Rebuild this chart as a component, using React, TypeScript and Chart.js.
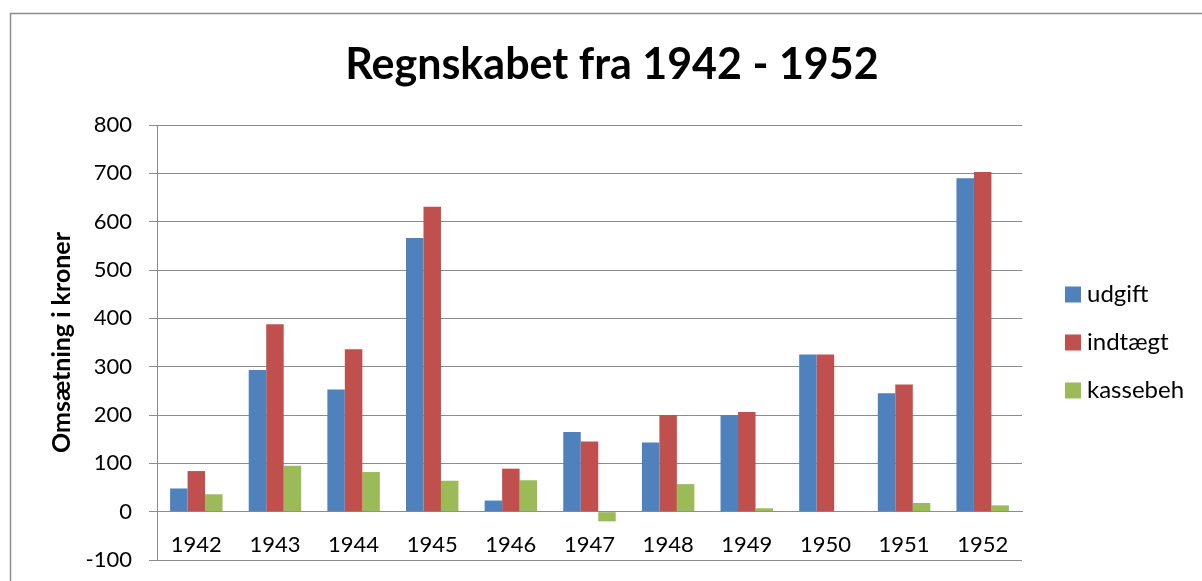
import React, { useEffect, useRef } from "react";
import { Chart, registerables } from "chart.js";

Chart.register(...registerables);

const categories = ["1942", "1943", "1944", "1945", "1946", "1947", "1948", "1949", "1950", "1951", "1952"];
const udgift = [48, 293, 253, 566, 23, 165, 143, 200, 325, 245, 690];
const indtaegt = [84, 388, 336, 631, 89, 145, 200, 206, 325, 263, 703];
const kassebeh = [36, 95, 82, 64, 65, -20, 57, 7, 0, 18, 13];
const seriesNames = ["udgift", "indtægt", "kassebeh"];
const seriesColors = ["#4F81BD", "#C0504D", "#9BBB59"];
const yMin = -100;
const yMax = 800;
const yStep = 100;
const titleText = "Regnskabet fra 1942 - 1952";
const yAxisTitle = "Omsætning i kroner";

const FONT = "Lato, 'Open Sans', sans-serif";
const GRID = "#8c8c8c";

const decorPlugin = {
  id: "decor",
  beforeDraw(chart: any) {
    const ctx = chart.ctx;
    ctx.save();
    ctx.fillStyle = "#ffffff";
    ctx.fillRect(0, 0, chart.width, chart.height);
    ctx.restore();
  },
  afterDraw(chart: any) {
    const ctx = chart.ctx;
    const area = chart.chartArea;
    ctx.save();
    // outer frame
    ctx.strokeStyle = GRID;
    ctx.lineWidth = 1.5;
    ctx.strokeRect(10.5, 13.5, 1400, 800);
    // title
    ctx.fillStyle = "#000";
    ctx.font = `bold 43px ${FONT}`;
    ctx.textAlign = "center";
    ctx.textBaseline = "alphabetic";
    ctx.fillText(titleText, 612, 79);
    // y-axis title
    const cy = (area.top + area.bottom) / 2;
    ctx.save();
    ctx.translate(62, cy);
    ctx.rotate(-Math.PI / 2);
    ctx.font = `bold 25px ${FONT}`;
    ctx.textAlign = "center";
    ctx.textBaseline = "middle";
    ctx.fillText(yAxisTitle, 0, 0);
    ctx.restore();
    // legend
    ctx.font = `24px ${FONT}`;
    ctx.textAlign = "left";
    ctx.textBaseline = "middle";
    chart.data.datasets.forEach((ds: any, i: number) => {
      const y = cy + (i - 1) * 48;
      ctx.fillStyle = ds.backgroundColor;
      ctx.fillRect(1065, y - 8, 16, 16);
      ctx.fillStyle = "#000";
      ctx.fillText(ds.label, 1087, y);
    });
    ctx.restore();
  },
};

export default function App() {
  const ref = useRef<HTMLCanvasElement>(null);
  useEffect(() => {
    if (!ref.current) return;
    Chart.defaults.font.family = FONT;
    const values = [udgift, indtaegt, kassebeh];
    const chart = new Chart(ref.current, {
      type: "bar",
      data: {
        labels: categories,
        datasets: seriesNames.map((name, i) => ({
          label: name,
          data: values[i],
          backgroundColor: seriesColors[i],
          borderWidth: 0,
          categoryPercentage: 0.667,
          barPercentage: 1,
        })),
      },
      options: {
        animation: false,
        responsive: false,
        layout: { padding: { left: 0, right: 180, top: 125, bottom: 21 } },
        plugins: {
          legend: { display: false },
          title: { display: false },
          tooltip: { enabled: false },
        },
        scales: {
          x: {
            position: { y: 0 } as any,
            grid: { display: false, drawTicks: false },
            border: { display: true, color: GRID, width: 1 },
            ticks: { color: "#000", padding: 20, font: { size: 22 }, maxRotation: 0 },
            afterFit: (s: any) => {
              s.height = 0;
            },
          },
          y: {
            min: yMin,
            max: yMax,
            ticks: { stepSize: yStep, color: "#000", padding: 17, font: { size: 22 } },
            grid: { color: GRID, tickLength: 8, lineWidth: 1 },
            border: { color: GRID, width: 1 },
            afterFit: (s: any) => {
              s.width = 157;
              s.paddingTop = 0;
              s.paddingBottom = 0;
            },
          },
        },
      },
      plugins: [decorPlugin],
    });
    return () => chart.destroy();
  }, []);
  return (
    <div style={{ position: "fixed", left: 0, top: 0, width: 1202, height: 581, overflow: "hidden", background: "#fff" }}>
      <canvas ref={ref} width={1202} height={581} style={{ display: "block" }} />
    </div>
  );
}
